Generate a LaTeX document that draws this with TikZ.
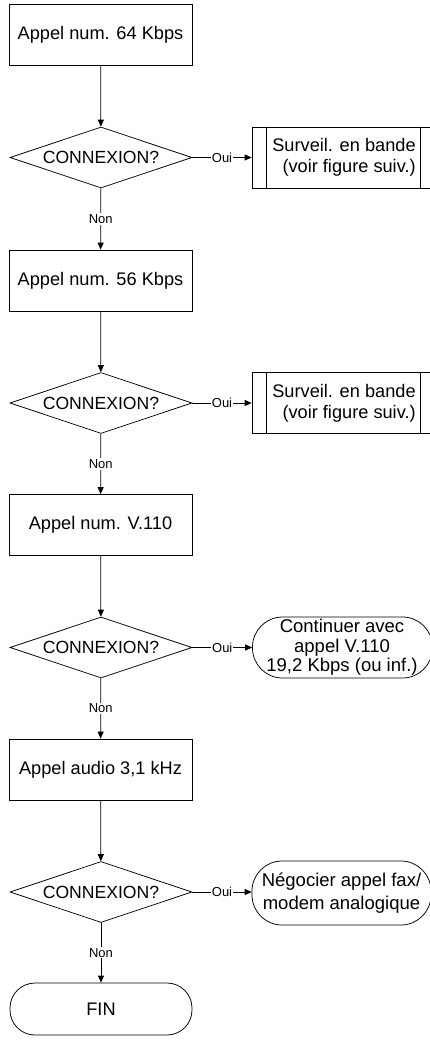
\documentclass[tikz,border=0pt]{standalone}
\usepackage{fontspec}
\setmainfont{Liberation Sans}
\usetikzlibrary{shapes.geometric,arrows.meta}
\newcommand{\bigtxt}{\fontsize{18.2}{21}\selectfont}
\newcommand{\dectxt}{\fontsize{17.6}{21}\selectfont}
\newcommand{\termtxt}{\fontsize{18.5}{19.5}\selectfont}
\newcommand{\smalltxt}{\fontsize{13}{14}\selectfont}
\tikzset{
  proc/.style={draw, rectangle, line width=0.75pt, minimum width=183pt, minimum height=61pt, inner sep=0pt, font=\bigtxt},
  dec/.style={draw, diamond, aspect=3, line width=0.75pt, minimum width=182pt, minimum height=61pt, inner sep=0pt, font=\dectxt},
  predef/.style={draw, rectangle, line width=0.75pt, minimum width=184pt, minimum height=61pt, inner sep=0pt, align=right, font=\bigtxt},
  term/.style={draw, rectangle, rounded corners=30pt, line width=0.75pt, minimum width=180pt, minimum height=61pt, inner sep=0pt, align=center, font=\termtxt},
  lbl/.style={fill=white, inner sep=1pt, font=\smalltxt},
  arr/.style={line width=0.75pt, -{Triangle[length=7pt,width=6pt]}},
}
\begin{document}
\begin{tikzpicture}[x=1pt,y=-1pt]
\clip (0,0) rectangle (430,1045);
\fill[white] (0,0) rectangle (430,1045);
% main column
\node[proc] (b1) at (100.5,34.5) {Appel num. 64 Kbps};
\node[dec]  (d1) at (101,157.5) {CONNEXION?};
\node[proc] (b2) at (100.5,280.5) {Appel num. 56 Kbps};
\node[dec]  (d2) at (101,403) {CONNEXION?};
\node[proc] (b3) at (100.5,525) {Appel num. V.110};
\node[dec]  (d3) at (101,647.5) {CONNEXION?};
\node[proc] (b4) at (100.5,769.5) {Appel audio 3,1 kHz};
\node[dec]  (d4) at (101,892) {CONNEXION?};
\node[term, font=\bigtxt, rounded corners=25pt, minimum width=182pt, minimum height=52pt] (fin) at (101,1009) {FIN};
% right column
\node[predef] (s1) at (344,157.5) {Surveil. en bande\\(voir figure suiv.)};
\draw[line width=0.75pt] ([xshift=15pt]s1.north west) -- ([xshift=15pt]s1.south west);
\draw[line width=0.75pt] ([xshift=-16pt]s1.north east) -- ([xshift=-16pt]s1.south east);
\node[predef] (s2) at (344,403) {Surveil. en bande\\(voir figure suiv.)};
\draw[line width=0.75pt] ([xshift=15pt]s2.north west) -- ([xshift=15pt]s2.south west);
\draw[line width=0.75pt] ([xshift=-16pt]s2.north east) -- ([xshift=-16pt]s2.south east);
\node[term, minimum width=180pt] (t3) at (342.5,647.5) {};
\node[font=\termtxt, align=center, inner sep=0pt] (t3txt) at (342,647.5) {Continuer avec\\appel V.110\\19,2 Kbps (ou inf.)};
\node[term, font=\fontsize{18.5}{22.5}\selectfont, minimum width=179pt, minimum height=64pt] (t4) at (341.5,893) {Négocier appel fax/\\modem analogique};
% connectors
\draw[arr] (b1) -- (d1);
\draw[arr] (d1) -- node[lbl]{Oui} (s1);
\draw[arr] (d1) -- node[lbl]{Non} (b2);
\draw[arr] (b2) -- (d2);
\draw[arr] (d2) -- node[lbl]{Oui} (s2);
\draw[arr] (d2) -- node[lbl]{Non} (b3);
\draw[arr] (b3) -- (d3);
\draw[arr] (d3) -- node[lbl]{Oui} (t3);
\draw[arr] (d3) -- node[lbl]{Non} (b4);
\draw[arr] (b4) -- (d4);
\draw[arr] (d4) -- node[lbl]{Oui} (d4 -| t4.west);
\draw[arr] (d4) -- node[lbl]{Non} (fin);
\end{tikzpicture}
\end{document}
